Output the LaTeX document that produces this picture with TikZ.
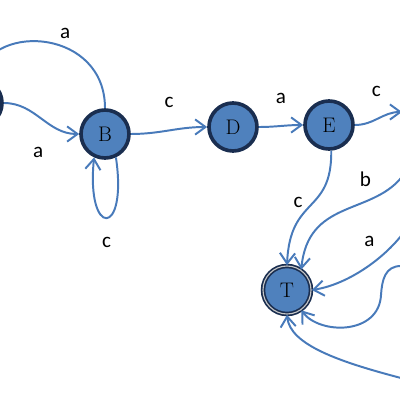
\documentclass[tikz,border=0pt]{standalone}
\usepackage{fontspec}
\usepackage{tikz}
\usetikzlibrary{arrows.meta}
\newfontfamily\lblfont{Carlito}
\definecolor{nodeblue}{RGB}{79,129,189}
\definecolor{nodeedge}{RGB}{26,46,80}
\definecolor{lineblue}{RGB}{72,122,186}
\tikzstyle{statenode} = [circle, fill=nodeblue, draw=nodeedge, line width=2.6pt,
minimum size=1.2cm, inner sep=0pt, font=\fontsize{15}{17}\selectfont]
\tikzstyle{finalnode} = [statenode, double=gray!45, double distance=0.8pt, line width=1.2pt]
\tikzstyle{trans} = [-{Straight Barb[length=2.6mm, width=3.8mm]}, line width=1.4pt, draw=lineblue]
\tikzstyle{edgelbl} = [font=\lblfont\fontsize{15}{17}\selectfont, text=black]

\begin{document}
\begin{tikzpicture}[x=0.025cm, y=-0.025cm]
    \useasboundingbox (0,0) rectangle (400,400);
    % states
    \node (A) [statenode]  at (-22,103) {};
    \node (B) [statenode]  at (105,134) {B};
    \node (D) [statenode]  at (233,127) {D};
    \node (E) [statenode]  at (329,125) {E};
    \node (T) [finalnode]  at (287,290) {T};

    % ends outside the picture
    \coordinate (F)  at (402,112);
    \coordinate (Gb) at (401,178);
    \coordinate (Ga) at (401,236);
    \coordinate (Gc) at (401,266);
    \coordinate (Gd) at (401,378);

    \draw[trans] (A) to[out=0, in=180] node[edgelbl, pos=0.45, below=18pt] {a} (B);
    \draw[trans] (B.north) .. controls (105,30) and (-5,22) .. node[edgelbl, pos=0.4, above=2pt] {a} (A.north);
    \draw[trans] (B.-65) .. controls (128,238) and (86,238) .. node[edgelbl, below=10pt] {c} (B.-115);
    \draw[trans] (B) to[out=0, in=180] node[edgelbl, above=12pt] {c} (D);
    \draw[trans] (D) to[out=0, in=180] node[edgelbl, above=12pt] {a} (E);
    \draw[trans] (E) to[out=0, in=180] node[edgelbl, pos=0.45, above=12pt] {c} (F);
    \draw[trans] (E.-85) .. controls (332,215) and (290,195) .. node[edgelbl, pos=0.45, left=4pt] {c} (T.north);
    \draw[trans] (Gb) .. controls (370,215) and (308,200) .. node[edgelbl, pos=0.2, above left=2pt] {b} (T.55);
    \draw[trans] (Ga) .. controls (380,262) and (345,285) .. node[edgelbl, pos=0.25, above left=2pt] {a} (T.east);
    \draw[trans] (Gc) .. controls (385,266) and (382,280) .. (381,295)
        .. controls (379,335) and (320,335) .. (T.-55);
    \draw[trans] (Gd) .. controls (340,362) and (290,345) .. (T.south);
\end{tikzpicture}
\end{document}
